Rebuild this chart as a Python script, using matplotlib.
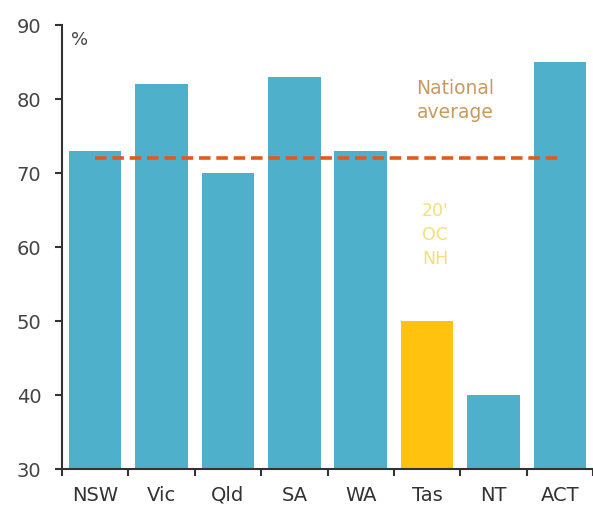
import matplotlib.pyplot as plt
import numpy as np

states = ['NSW', 'Vic', 'Qld', 'SA', 'WA', 'Tas', 'NT', 'ACT']
share = [73, 82, 70, 83, 73, 50, 40, 85]  # per cent
national_avg = 72
highlight = 'Tas'

blue = '#4fb0cc'
yellow = '#ffc20e'

fig = plt.figure(figsize=(5.93, 5.16), dpi=100)
ax = fig.add_axes([0.1046, 0.091, 0.8954, 0.8605])

x = np.arange(len(states))
colors = [yellow if s == highlight else blue for s in states]
ax.bar(x, share, width=0.79, color=colors, bottom=0, zorder=2)
ax.plot([x[0], x[-1]], [national_avg, national_avg], color='#e05a1e',
        linestyle=(0, (3.2, 1.6)), linewidth=2.6, zorder=3)

ax.set_ylim(30, 90)
ax.set_xlim(-0.5, len(states) - 0.5)
ax.set_yticks([30, 40, 50, 60, 70, 80, 90])

# ticks between categories, labels at the centres
ax.set_xticks(np.arange(len(states) + 1) - 0.5)
ax.set_xticklabels([])
ax.set_xticks(x, minor=True)
ax.set_xticklabels(states, minor=True)
ax.tick_params(axis='x', which='minor', length=0, pad=12, labelsize=14, labelcolor='#333333')
ax.tick_params(axis='x', which='major', length=5, width=1.5, color='#333333')
ax.tick_params(axis='y', length=5, width=1.5, color='#333333', labelsize=14,
               labelcolor='#444444', pad=10)

for side in ['top', 'right']:
    ax.spines[side].set_visible(False)
for side in ['left', 'bottom']:
    ax.spines[side].set_linewidth(1.5)
    ax.spines[side].set_color('#333333')

ax.text(-0.23, 88, '%', fontsize=13, color='#444444', ha='center', va='center')
ax.text(5.42, 79.8, 'National\naverage', fontsize=13.5, color='#c89a60',
        ha='center', va='center', linespacing=1.35)
ax.text(5.12, 61.6, "20'\nOC\nNH", fontsize=12.5, color='#f3df7a',
        ha='center', va='center', linespacing=1.45)

fig.savefig('out.png', dpi=100)
